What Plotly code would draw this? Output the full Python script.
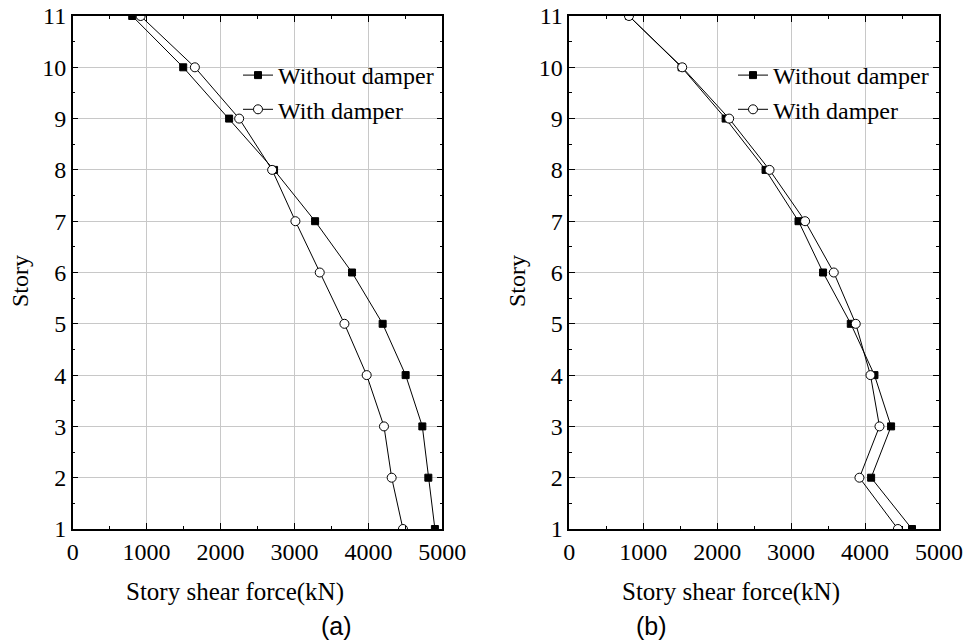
import plotly.graph_objects as go

W, H = 966, 643

stories = [1, 2, 3, 4, 5, 6, 7, 8, 9, 10, 11]

# Panel (a)
a_without = [4900, 4811, 4730, 4504, 4193, 3779, 3279, 2724, 2116, 1495, 805]
a_with = [4468, 4315, 4211, 3977, 3676, 3342, 3013, 2698, 2252, 1653, 919]

# Panel (b)
b_without = [4635, 4082, 4352, 4127, 3807, 3432, 3100, 2654, 2114, 1519, 807]
b_with = [4444, 3924, 4195, 4073, 3874, 3577, 3189, 2708, 2162, 1527, 807]

x_ticks = [0, 1000, 2000, 3000, 4000, 5000]
y_ticks = [1, 2, 3, 4, 5, 6, 7, 8, 9, 10, 11]

series_names = ["Without damper", "With damper"]
panel_labels = ["(a)", "(b)"]
x_title = "Story shear force(kN)"
y_title = "Story"

SERIF = "Times New Roman, Liberation Serif, serif"
SANS = "Arial, Liberation Sans, sans-serif"

def px(x):
    return x / W

def py(y):
    return 1 - y / H

fig = go.Figure()

panels = [
    (a_without, a_with, "x", "y", "legend"),
    (b_without, b_with, "x2", "y2", "legend2"),
]

for wo, wi, xa, ya, lg in panels:
    fig.add_trace(go.Scatter(
        x=wo, y=stories, xaxis=xa, yaxis=ya, legend=lg,
        name=series_names[0], mode="lines+markers",
        line=dict(color="black", width=1),
        marker=dict(symbol="square", size=7, color="black",
                    line=dict(color="black", width=1)),
    ))
    fig.add_trace(go.Scatter(
        x=wi, y=stories, xaxis=xa, yaxis=ya, legend=lg,
        name=series_names[1], mode="lines+markers",
        line=dict(color="black", width=1),
        marker=dict(symbol="circle", size=9, color="white",
                    line=dict(color="black", width=1)),
    ))

common_x = dict(
    range=[0, 5000], tickvals=x_ticks, ticktext=[str(v) for v in x_ticks],
    showgrid=True, gridcolor="#c8c8c8", gridwidth=1, zeroline=False,
    showline=True, linecolor="black", linewidth=1.5, mirror="ticks",
    ticks="inside", ticklen=6, tickwidth=1, tickcolor="black",
    minor=dict(ticks="inside", ticklen=3, tickwidth=1, tickcolor="black",
               dtick=500, tick0=0, showgrid=False),
    tickfont=dict(family=SERIF, size=24, color="black"),
    automargin=False, fixedrange=True,
)
common_y = dict(
    range=[1, 11], tickvals=y_ticks, ticktext=[str(v) for v in y_ticks],
    showgrid=True, gridcolor="#c8c8c8", gridwidth=1, zeroline=False,
    showline=True, linecolor="black", linewidth=1.5, mirror="ticks",
    ticks="inside", ticklen=6, tickwidth=1, tickcolor="black",
    minor=dict(ticks="inside", ticklen=3, tickwidth=1, tickcolor="black",
               dtick=0.5, tick0=1, showgrid=False),
    tickfont=dict(family=SERIF, size=24, color="black"),
    automargin=False, fixedrange=True,
)

ydom = [py(529), py(16)]

legend_common = dict(
    bgcolor="rgba(0,0,0,0)", borderwidth=0,
    font=dict(family=SERIF, size=24, color="black"),
    xanchor="left", yanchor="top", tracegroupgap=0,
)

annotations = []
for cx, lab in [(px(235), x_title), (px(731), x_title)]:
    annotations.append(dict(
        text=lab, x=cx, y=py(592), xref="paper", yref="paper",
        xanchor="center", yanchor="middle", showarrow=False,
        font=dict(family=SERIF, size=25, color="black"),
    ))
for cx in [px(20), px(517)]:
    annotations.append(dict(
        text=y_title, x=cx, y=py(281), xref="paper", yref="paper",
        xanchor="center", yanchor="middle", showarrow=False, textangle=-90,
        font=dict(family=SERIF, size=24, color="black"),
    ))
for cx, lab in [(px(336), panel_labels[0]), (px(651), panel_labels[1])]:
    annotations.append(dict(
        text=lab, x=cx, y=py(626), xref="paper", yref="paper",
        xanchor="center", yanchor="middle", showarrow=False,
        font=dict(family=SANS, size=25, color="black"),
    ))

fig.update_layout(
    width=W, height=H,
    margin=dict(l=0, r=0, t=0, b=0),
    paper_bgcolor="white", plot_bgcolor="white",
    showlegend=True,
    xaxis=dict(domain=[px(72.7), px(442.3)], anchor="y", **common_x),
    yaxis=dict(domain=ydom, anchor="x", **common_y),
    xaxis2=dict(domain=[px(569.3), px(939)], anchor="y2", **common_x),
    yaxis2=dict(domain=ydom, anchor="x2", **common_y),
    legend=dict(x=px(238), y=py(53), **legend_common),
    legend2=dict(x=px(733), y=py(53), **legend_common),
    annotations=annotations,
)

fig.write_html("out.html")
